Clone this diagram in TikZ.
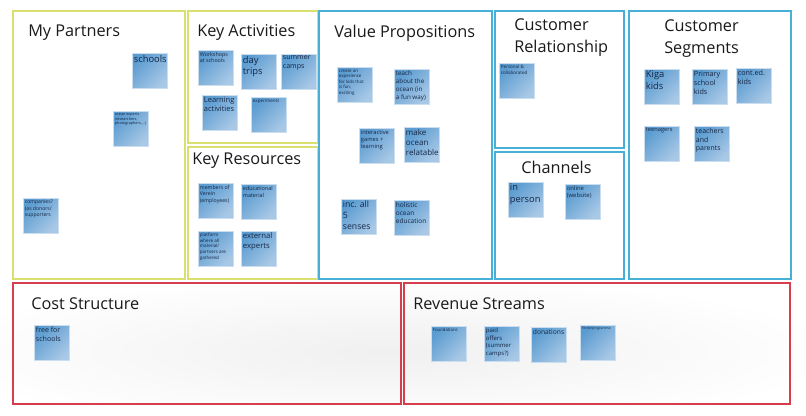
\documentclass[tikz,border=0pt]{standalone}
\usepackage{fontspec}
\setmainfont{Open Sans}
\usetikzlibrary{positioning}
\definecolor{yfr}{RGB}{218,224,112}
\definecolor{bfr}{RGB}{72,176,214}
\definecolor{rfr}{RGB}{214,62,78}
\definecolor{nd}{RGB}{90,155,208}
\definecolor{nl}{RGB}{168,200,230}
\definecolor{nt}{RGB}{22,38,68}
\definecolor{ttl}{RGB}{26,26,26}
\tikzset{
  frame/.style={draw, line width=1.2pt, anchor=north west, inner sep=0pt},
  yframe/.style={frame, draw=yfr},
  bframe/.style={frame, draw=bfr},
  rframe/.style={frame, draw=rfr},
  ttlnode/.style={anchor=west, inner sep=0pt, text=ttl, align=left, font=\fontsize{12.2}{16.5}\selectfont},
  note/.style={anchor=north west, shade, top color=nd, bottom color=nl, shading angle=45,
    draw=nl!60!white, line width=0.3pt, inner sep=1.3pt, minimum width=26.25pt, minimum height=26.25pt, text=nt}
}
\newcommand\pnote[5]{\node[note] (#1) at (#2,#3) {\parbox[t][23.4pt][t]{24pt}{\fontsize{#4}{#4}\selectfont\baselineskip=#4pt \baselineskip=1.25\baselineskip\raggedright #5}};}
\begin{document}
\begin{tikzpicture}[x=0.75pt,y=-0.75pt]
\useasboundingbox (0,0) rectangle (806,415);
\fill[white] (0,0) rectangle (806,415);
% soft shadow
\begin{scope}
\clip (0,284) rectangle (806,402);
\shade[inner color=black!6, outer color=white] (385,352) ellipse (460 and 76);
\end{scope}
% frames
\node[yframe, minimum width=129pt, minimum height=201pt] (mpF) at (12,10) {};
\node[yframe, minimum width=97.5pt, minimum height=99pt] (kaF) at (187,10) {};
\node[yframe, minimum width=97.5pt, minimum height=99pt] (krF) at (187,146) {};
\node[bframe, minimum width=129.75pt, minimum height=201pt] (vpF) at (318,10) {};
\node[bframe, minimum width=96.75pt, minimum height=102.75pt] (crF) at (494,10) {};
\node[bframe, minimum width=96.75pt, minimum height=95.25pt] (chF) at (494,151) {};
\node[bframe, minimum width=121.5pt, minimum height=201pt] (csF) at (628,10) {};
\node[rframe, minimum width=291pt, minimum height=90.75pt] (costF) at (12,282) {};
\node[rframe, minimum width=289.5pt, minimum height=90.75pt] (revF) at (403,282) {};
% titles
\node[ttlnode] (mpT) at (28,33) {My Partners};
\node[ttlnode] (kaT) at (197,32) {Key Activities};
\node[ttlnode] (krT) at (192,161) {Key Resources};
\node[ttlnode] (vpT) at (334,33) {Value Propositions};
\node[ttlnode] (crT) at (514,38) {Customer\\Relationship};
\node[ttlnode] (chT) at (521,167) {Channels};
\node[ttlnode] (csT) at (664,38.5) {Customer\\Segments};
\node[ttlnode] (costT) at (31,304) {Cost Structure};
\node[ttlnode] (revT) at (413,304) {Revenue Streams};
% My Partners
\pnote{n1}{132}{53}{7}{schools}
\pnote{n2}{113}{111}{2.8}{ocean experts\\(researchers,\\photographers,...)}
\pnote{n3}{23}{198}{3.8}{companies?\\(as donors/\\supporters}
% Key Activities
\pnote{n4}{198}{50}{4}{Workshops\\at schools}
\pnote{n5}{241}{54}{7}{day\\trips}
\pnote{n6}{281}{54}{5.3}{summer\\camps}
\pnote{n7}{202}{95}{5.6}{Learning\\activities}
\pnote{n8}{251}{97}{3.4}{experiments}
% Key Resources
\pnote{n9}{198}{183}{3.9}{members of\\Verein\\(employees)}
\pnote{n10}{241}{184}{4.1}{educational\\material}
\pnote{n11}{198}{231}{3.4}{platform\\where all\\material/\\partners are\\gathered}
\pnote{n12}{241}{231}{5.8}{external\\experts}
% Value Propositions
\pnote{n13}{337}{67}{3.3}{create an\\experience\\for kids that\\is fun,\\exciting}
\pnote{n14}{394}{69}{4.7}{teach\\about the\\ocean (in\\a fun way)}
\pnote{n15}{359}{128}{4.3}{interactive\\games +\\learning}
\pnote{n16}{404}{127}{6}{make\\ocean\\relatable}
\pnote{n17}{341}{199}{6.5}{inc. all\\5\\senses}
\pnote{n18}{394}{200}{4.9}{holistic\\ocean\\education}
% Customer Relationship
\pnote{n19}{499}{63}{3.4}{Personal \&\\collaborated}
% Channels
\pnote{n20}{508}{182}{7}{in\\person}
\pnote{n21}{565}{184}{4.4}{online\\(website)}
% Customer Segments
\pnote{n22}{644}{69}{7}{Kiga\\kids}
\pnote{n23}{692}{69}{5.4}{Primary\\school\\kids}
\pnote{n24}{736}{68}{5.4}{cont.ed.\\kids}
\pnote{n25}{644}{126}{4.3}{teenagers}
\pnote{n26}{694}{126}{5.2}{teachers\\and\\parents}
% Cost Structure
\pnote{n27}{34}{325}{5.3}{free for\\schools}
% Revenue Streams
\pnote{n28}{431}{326}{3.2}{Foundations}
\pnote{n29}{484}{326}{4.5}{paid\\offers\\(summer\\camps?)}
\pnote{n30}{531}{327}{5}{donations}
\pnote{n31}{580}{325}{2.5}{Förderprogramme}
\end{tikzpicture}
\end{document}
